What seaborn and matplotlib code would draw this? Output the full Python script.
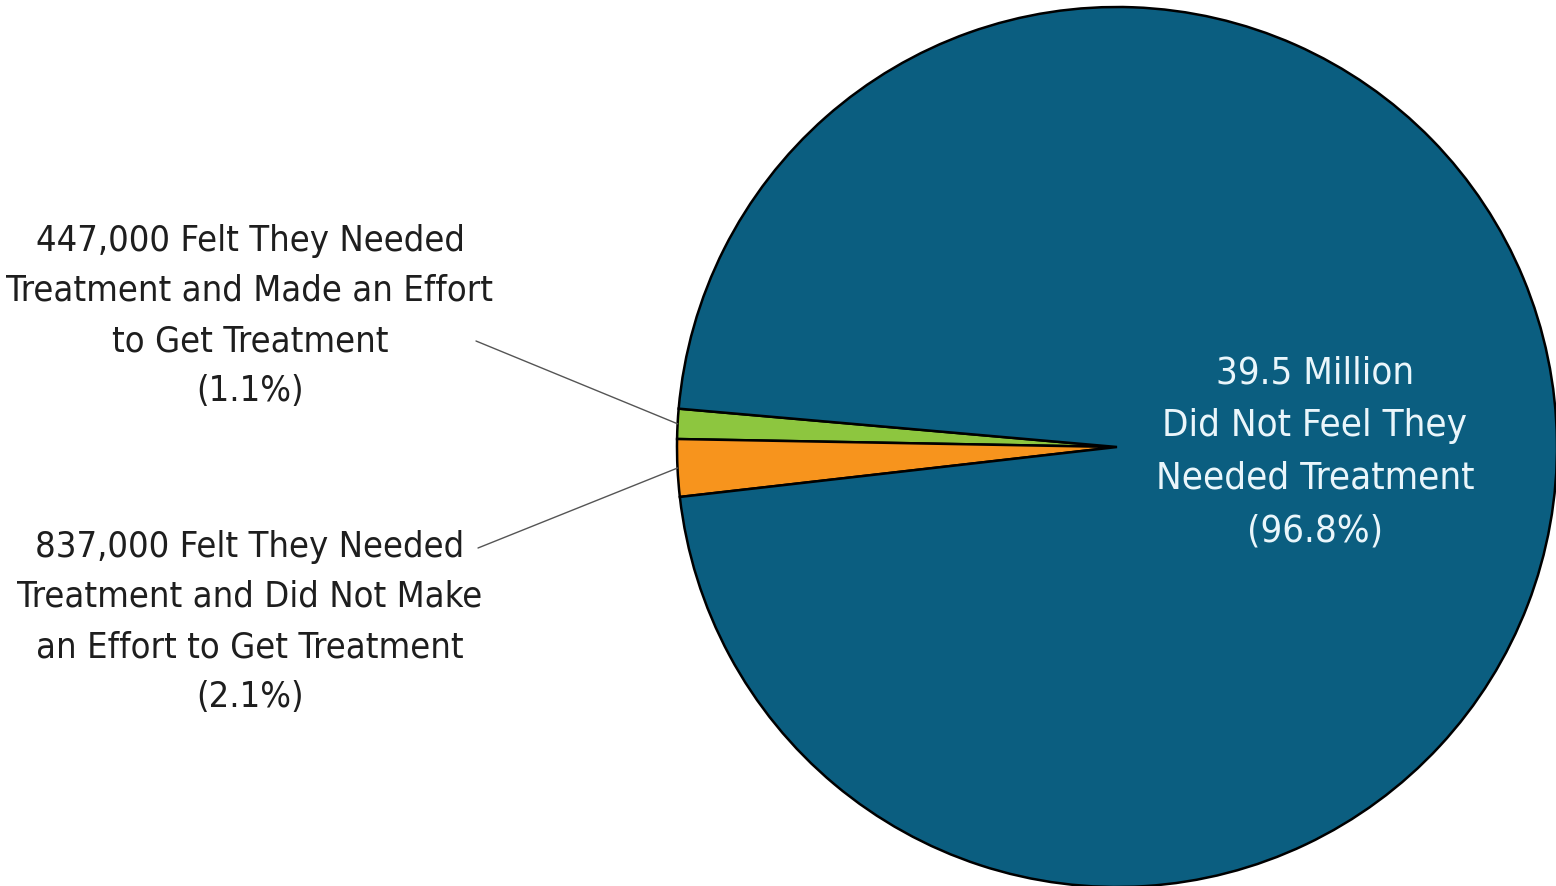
import numpy as np
import matplotlib.pyplot as plt
import seaborn as sns

# values (share of population, %)
shares = [1.1, 2.1, 96.8]
slice_colors = ['#8dc63f', '#f7941d', '#0b5e80']
labels = [
    '447,000 Felt They Needed\nTreatment and Made an Effort\nto Get Treatment\n(1.1%)',
    '837,000 Felt They Needed\nTreatment and Did Not Make\nan Effort to Get Treatment\n(2.1%)',
    '39.5 Million\nDid Not Feel They\nNeeded Treatment\n(96.8%)',
]

sns.set_theme(style='white')
plt.rcParams['font.family'] = ['Liberation Sans Narrow', 'DejaVu Sans']
plt.rcParams['font.stretch'] = 'condensed'

fig = plt.figure(figsize=(15.56, 8.87), dpi=100)
ax = fig.add_axes([677 / 1556, -1 / 887, 880 / 1556, 880 / 887])

wedges, _ = ax.pie(shares, colors=slice_colors, startangle=175,
                   counterclock=True, radius=1,
                   wedgeprops=dict(edgecolor='black', linewidth=1.8))
ax.set_xlim(-1, 1)
ax.set_ylim(-1, 1)
ax.set_aspect('equal')
ax.axis('off')

# label for the big slice, inside the pie
ax.text(0.45, -0.01, labels[2], ha='center', va='center', color='#eaf6fb',
        fontsize=27.5, linespacing=1.6, fontstretch='condensed')

# outside labels with leader lines to the small slices
text_pos = [(250 / 1556, 1 - 316 / 887), (250 / 1556, 1 - 622 / 887)]
line_start = [(476 / 1556, 1 - 342 / 887), (478 / 1556, 1 - 549 / 887)]
for w, lab, tp, ls in zip(wedges[:2], labels[:2], text_pos, line_start):
    mid = np.deg2rad((w.theta1 + w.theta2) / 2)
    edge = (np.cos(mid), np.sin(mid))
    fig.text(tp[0], tp[1], lab, ha='center', va='center', color='#1e1e1e',
             fontsize=26, linespacing=1.6, fontstretch='condensed')
    ax.annotate('', xy=edge, xycoords='data', xytext=ls,
                textcoords='figure fraction',
                arrowprops=dict(arrowstyle='-', color='#555555', lw=1.0,
                                shrinkA=0, shrinkB=0))

fig.savefig('out.png', dpi=100)
